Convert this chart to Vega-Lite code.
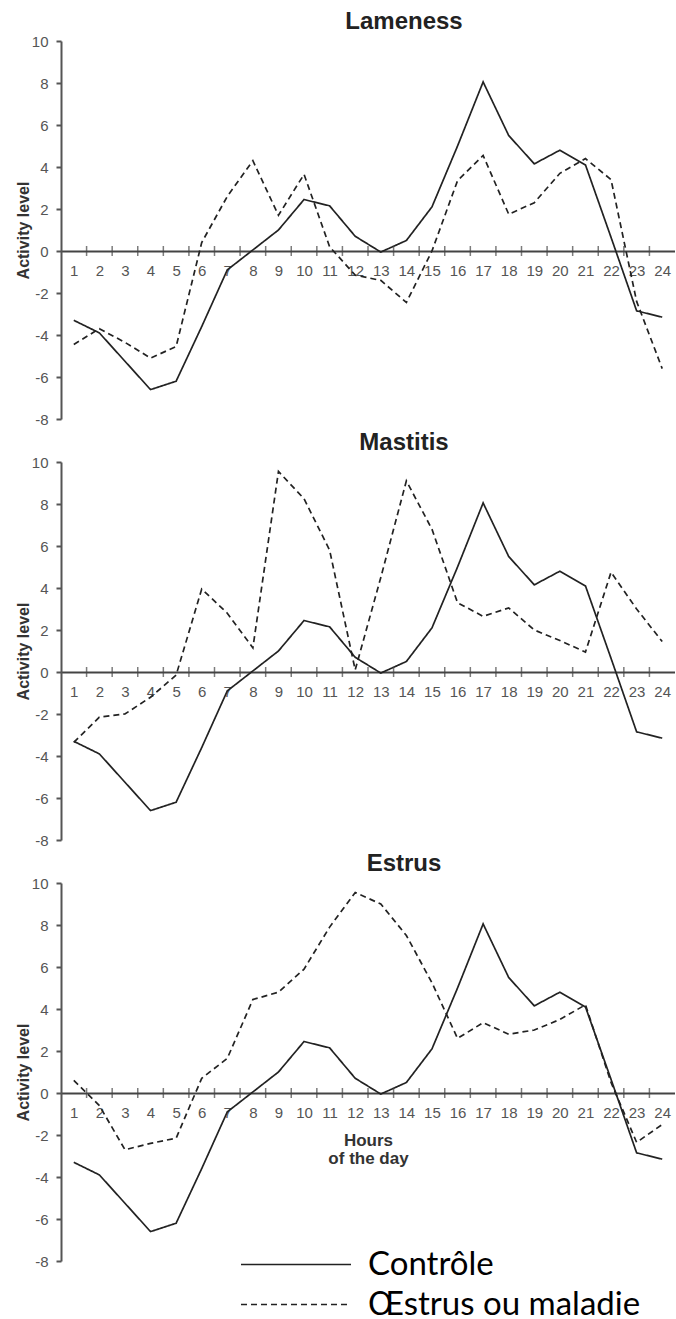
{
  "$schema": "https://vega.github.io/schema/vega-lite/v6.json",
  "background": "white",
  "padding": {"left": 15, "top": 10, "right": 0, "bottom": 0},
  "config": {
    "view": {"stroke": null},
    "font": "Liberation Sans",
    "concat": {"spacing": 4}
  },
  "datasets": {
    "hours": [
      {"hour": 1, "control": -3.3, "lameness": -4.45, "mastitis": -3.35, "estrus": 0.6},
      {"hour": 2, "control": -3.9, "lameness": -3.7, "mastitis": -2.15, "estrus": -0.6},
      {"hour": 3, "control": -5.25, "lameness": -4.35, "mastitis": -2.0, "estrus": -2.7},
      {"hour": 4, "control": -6.6, "lameness": -5.1, "mastitis": -1.2, "estrus": -2.4},
      {"hour": 5, "control": -6.2, "lameness": -4.55, "mastitis": -0.15, "estrus": -2.15},
      {"hour": 6, "control": -3.6, "lameness": 0.4, "mastitis": 3.95, "estrus": 0.7},
      {"hour": 7, "control": -0.9, "lameness": 2.6, "mastitis": 2.8, "estrus": 1.65},
      {"hour": 8, "control": 0.05, "lameness": 4.3, "mastitis": 1.15, "estrus": 4.45},
      {"hour": 9, "control": 1.0, "lameness": 1.7, "mastitis": 9.55, "estrus": 4.8},
      {"hour": 10, "control": 2.45, "lameness": 3.65, "mastitis": 8.25, "estrus": 5.9},
      {"hour": 11, "control": 2.15, "lameness": 0.2, "mastitis": 5.8, "estrus": 7.9},
      {"hour": 12, "control": 0.7, "lameness": -1.15, "mastitis": 0.1, "estrus": 9.55},
      {"hour": 13, "control": -0.05, "lameness": -1.4, "mastitis": 4.5, "estrus": 9.0},
      {"hour": 14, "control": 0.5, "lameness": -2.45, "mastitis": 9.1, "estrus": 7.5},
      {"hour": 15, "control": 2.1, "lameness": 0.0, "mastitis": 6.8, "estrus": 5.25},
      {"hour": 16, "control": 5.0, "lameness": 3.35, "mastitis": 3.3, "estrus": 2.6},
      {"hour": 17, "control": 8.05, "lameness": 4.55, "mastitis": 2.65, "estrus": 3.35},
      {"hour": 18, "control": 5.5, "lameness": 1.75, "mastitis": 3.05, "estrus": 2.8},
      {"hour": 19, "control": 4.15, "lameness": 2.3, "mastitis": 2.0, "estrus": 3.0},
      {"hour": 20, "control": 4.8, "lameness": 3.7, "mastitis": 1.5, "estrus": 3.5},
      {"hour": 21, "control": 4.1, "lameness": 4.4, "mastitis": 0.95, "estrus": 4.2},
      {"hour": 22, "control": 0.65, "lameness": 3.4, "mastitis": 4.75, "estrus": 0.5},
      {"hour": 23, "control": -2.85, "lameness": -2.4, "mastitis": 3.0, "estrus": -2.35},
      {"hour": 24, "control": -3.15, "lameness": -5.6, "mastitis": 1.45, "estrus": -1.5}
    ],
    "ticks": [
      {"x": 1.5}, {"x": 2.5}, {"x": 3.5}, {"x": 4.5}, {"x": 5.5}, {"x": 6.5},
      {"x": 7.5}, {"x": 8.5}, {"x": 9.5}, {"x": 10.5}, {"x": 11.5}, {"x": 12.5},
      {"x": 13.5}, {"x": 14.5}, {"x": 15.5}, {"x": 16.5}, {"x": 17.5}, {"x": 18.5},
      {"x": 19.5}, {"x": 20.5}, {"x": 21.5}, {"x": 22.5}, {"x": 23.5}
    ]
  },
  "data": {"name": "hours"},
  "resolve": {"scale": {"strokeDash": "independent"}, "legend": {"strokeDash": "independent"}},
  "vconcat": [
    {
      "title": {"text": "Lameness", "frame": "group", "anchor": "middle", "dx": 36, "offset": 0, "fontSize": 24, "fontWeight": "bold", "color": "#222"},
      "width": 614,
      "height": 378,
      "encoding": {
        "x": {"field": "hour", "type": "quantitative", "scale": {"domain": [0.5, 24.5], "nice": false, "zero": false},
          "axis": {"values": [1,2,3,4,5,6,7,8,9,10,11,12,13,14,15,16,17,18,19,20,21,22,23,24], "offset": -168, "tickSize": 0, "labelPadding": 12, "labelFontSize": 15, "labelColor": "#555", "domainColor": "#444", "domainWidth": 2, "grid": false, "title": null, "labelOverlap": false, "labelFlush": false}}
      },
      "layer": [
        {
          "mark": {"type": "line", "strokeWidth": 1.7, "color": "#222"},
          "encoding": {
            "y": {"field": "control", "type": "quantitative", "scale": {"domain": [-8, 10], "nice": false, "zero": false},
              "axis": {"values": [-8,-6,-4,-2,0,2,4,6,8,10], "labelExpr": "datum.value + ''", "title": "Activity level", "titleFontSize": 16, "titleFontWeight": "bold", "titleColor": "#333", "titlePadding": 0, "labelFontSize": 15, "labelColor": "#555", "labelPadding": 8, "tickSize": 5, "tickWidth": 2, "tickColor": "#555", "domainColor": "#555", "domainWidth": 2, "grid": false}},
            "strokeDash": {"datum": "Contrôle", "scale": {"domain": ["Contrôle", "Œstrus ou maladie"], "range": [[1, 0], [6, 4]]}, "legend": null}
          }
        },
        {
          "mark": {"type": "line", "strokeWidth": 1.7, "color": "#222"},
          "encoding": {
            "y": {"field": "lameness", "type": "quantitative", "title": "Activity level"},
            "strokeDash": {"datum": "Œstrus ou maladie", "legend": null}
          }
        },
        {
          "data": {"name": "ticks"},
          "mark": {"type": "tick", "orient": "vertical", "size": 10, "thickness": 1.5, "color": "#444"},
          "encoding": {"x": {"field": "x", "type": "quantitative"}, "y": {"datum": 0, "type": "quantitative"}}
        }
      ]
    },
    {
      "title": {"text": "Mastitis", "frame": "group", "anchor": "middle", "dx": 36, "offset": 0, "fontSize": 24, "fontWeight": "bold", "color": "#222"},
      "width": 614,
      "height": 378,
      "encoding": {
        "x": {"field": "hour", "type": "quantitative", "scale": {"domain": [0.5, 24.5], "nice": false, "zero": false},
          "axis": {"values": [1,2,3,4,5,6,7,8,9,10,11,12,13,14,15,16,17,18,19,20,21,22,23,24], "offset": -168, "tickSize": 0, "labelPadding": 12, "labelFontSize": 15, "labelColor": "#555", "domainColor": "#444", "domainWidth": 2, "grid": false, "title": null, "labelOverlap": false, "labelFlush": false}}
      },
      "layer": [
        {
          "mark": {"type": "line", "strokeWidth": 1.7, "color": "#222"},
          "encoding": {
            "y": {"field": "control", "type": "quantitative", "scale": {"domain": [-8, 10], "nice": false, "zero": false},
              "axis": {"values": [-8,-6,-4,-2,0,2,4,6,8,10], "labelExpr": "datum.value + ''", "title": "Activity level", "titleFontSize": 16, "titleFontWeight": "bold", "titleColor": "#333", "titlePadding": 0, "labelFontSize": 15, "labelColor": "#555", "labelPadding": 8, "tickSize": 5, "tickWidth": 2, "tickColor": "#555", "domainColor": "#555", "domainWidth": 2, "grid": false}},
            "strokeDash": {"datum": "Contrôle", "scale": {"domain": ["Contrôle", "Œstrus ou maladie"], "range": [[1, 0], [6, 4]]}, "legend": null}
          }
        },
        {
          "mark": {"type": "line", "strokeWidth": 1.7, "color": "#222"},
          "encoding": {
            "y": {"field": "mastitis", "type": "quantitative", "title": "Activity level"},
            "strokeDash": {"datum": "Œstrus ou maladie", "legend": null}
          }
        },
        {
          "data": {"name": "ticks"},
          "mark": {"type": "tick", "orient": "vertical", "size": 10, "thickness": 1.5, "color": "#444"},
          "encoding": {"x": {"field": "x", "type": "quantitative"}, "y": {"datum": 0, "type": "quantitative"}}
        }
      ]
    },
    {
      "title": {"text": "Estrus", "frame": "group", "anchor": "middle", "dx": 36, "offset": 0, "fontSize": 24, "fontWeight": "bold", "color": "#222"},
      "width": 614,
      "height": 378,
      "encoding": {
        "x": {"field": "hour", "type": "quantitative", "scale": {"domain": [0.5, 24.5], "nice": false, "zero": false},
          "axis": {"values": [1,2,3,4,5,6,7,8,9,10,11,12,13,14,15,16,17,18,19,20,21,22,23,24], "offset": -168, "tickSize": 0, "labelPadding": 12, "labelFontSize": 15, "labelColor": "#555", "domainColor": "#444", "domainWidth": 2, "grid": false, "title": ["Hours", "of the day"], "titleFontSize": 17, "titleFontWeight": "bold", "titleColor": "#333", "titlePadding": 12, "titleLineHeight": 18, "labelOverlap": false, "labelFlush": false}}
      },
      "layer": [
        {
          "mark": {"type": "line", "strokeWidth": 1.7, "color": "#222"},
          "encoding": {
            "y": {"field": "control", "type": "quantitative", "scale": {"domain": [-8, 10], "nice": false, "zero": false},
              "axis": {"values": [-8,-6,-4,-2,0,2,4,6,8,10], "labelExpr": "datum.value + ''", "title": "Activity level", "titleFontSize": 16, "titleFontWeight": "bold", "titleColor": "#333", "titlePadding": 0, "labelFontSize": 15, "labelColor": "#555", "labelPadding": 8, "tickSize": 5, "tickWidth": 2, "tickColor": "#555", "domainColor": "#555", "domainWidth": 2, "grid": false}},
            "strokeDash": {"datum": "Contrôle", "scale": {"domain": ["Contrôle", "Œstrus ou maladie"], "range": [[1, 0], [6, 4]]},
              "legend": {"orient": "none", "legendX": 169, "legendY": 365, "title": null, "padding": 0, "symbolType": "M-1,0H19", "symbolSize": 121, "symbolStrokeWidth": 1.5, "symbolStrokeColor": "#111", "labelFont": "Lato", "labelFontSize": 33, "labelColor": "#000", "labelOffset": 105, "labelLimit": 0, "rowPadding": 6}}
          }
        },
        {
          "mark": {"type": "line", "strokeWidth": 1.7, "color": "#222"},
          "encoding": {
            "y": {"field": "estrus", "type": "quantitative", "title": "Activity level"},
            "strokeDash": {"datum": "Œstrus ou maladie"}
          }
        },
        {
          "data": {"name": "ticks"},
          "mark": {"type": "tick", "orient": "vertical", "size": 10, "thickness": 1.5, "color": "#444"},
          "encoding": {"x": {"field": "x", "type": "quantitative"}, "y": {"datum": 0, "type": "quantitative"}}
        }
      ]
    }
  ]
}
